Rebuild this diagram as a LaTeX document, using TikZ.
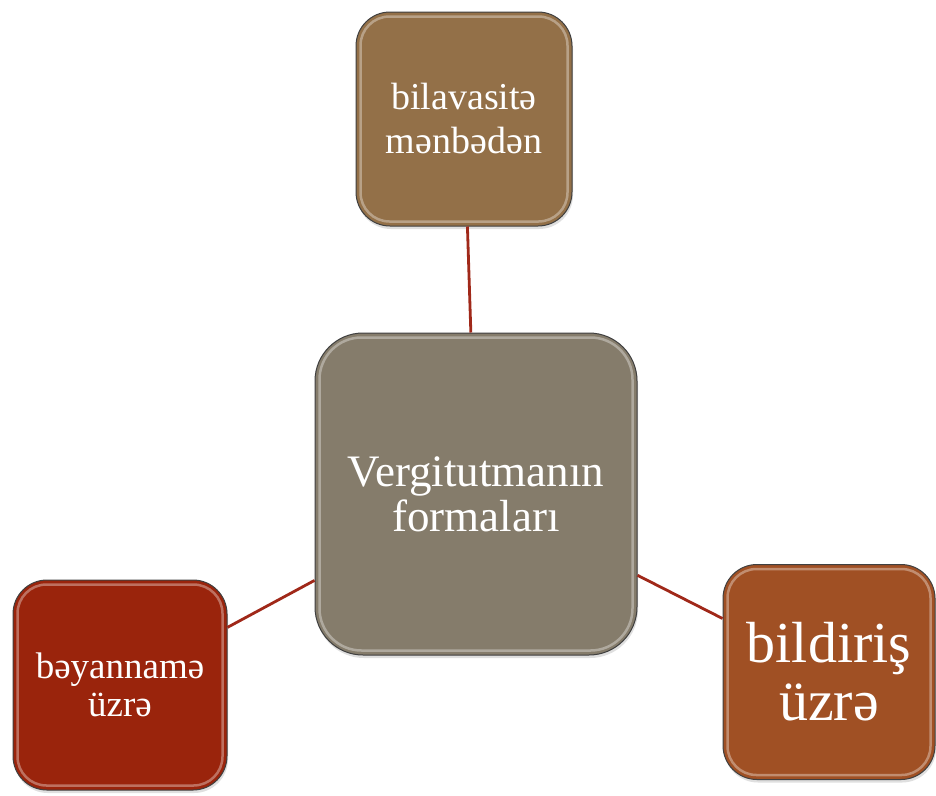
\documentclass[tikz,border=0pt]{standalone}
\usepackage{fontspec}
\setmainfont{Liberation Serif}
\usetikzlibrary{shadows}
\definecolor{cgray}{RGB}{133,124,107}
\definecolor{ctan}{RGB}{147,112,72}
\definecolor{cred}{RGB}{154,36,12}
\definecolor{crust}{RGB}{160,80,36}
\definecolor{connred}{RGB}{160,40,25}
\begin{document}
\begin{tikzpicture}[x=1pt,y=-1pt,
  box/.style={rectangle, draw=black!75, line width=1pt, text=white, align=center, inner sep=0pt,
    drop shadow={opacity=0.25, shadow xshift=1pt, shadow yshift=-3pt}},
  conn/.style={draw=connred, line width=2.8pt},
  hl/.style={draw=white, opacity=0.35, line width=2.5pt}]
\path[use as bounding box, fill=white] (0,0) rectangle (936,795);
\node[box, fill=cgray, minimum width=322pt, minimum height=322pt, rounded corners=48pt,
  font=\fontsize{45}{45}\selectfont] (c) at (476,494) {Vergitutmanın\\formaları};
\node[box, fill=ctan, minimum width=216pt, minimum height=214pt, rounded corners=34pt,
  font=\fontsize{38}{44}\selectfont] (t) at (464,119) {bilavasitə\\mənbədən};
\node[box, fill=cred, minimum width=214pt, minimum height=210pt, rounded corners=34pt,
  font=\fontsize{37}{38}\selectfont] (l) at (120,685) {bəyannamə\\üzrə};
\node[box, fill=crust, minimum width=212pt, minimum height=215pt, rounded corners=34pt,
  font=\fontsize{58}{58}\selectfont] (r) at (829,672) {bildiriş\\üzrə};
\draw[conn] (c) -- (t);
\draw[conn] (c) -- (l);
\draw[conn] (c) -- (r);
\foreach \n/\r in {c/42pt, t/29pt, l/29pt, r/29pt}{
  \draw[hl, rounded corners=\r] ([xshift=5pt,yshift=-5pt]\n.north west) rectangle ([xshift=-5pt,yshift=5pt]\n.south east);
}
\end{tikzpicture}
\end{document}
